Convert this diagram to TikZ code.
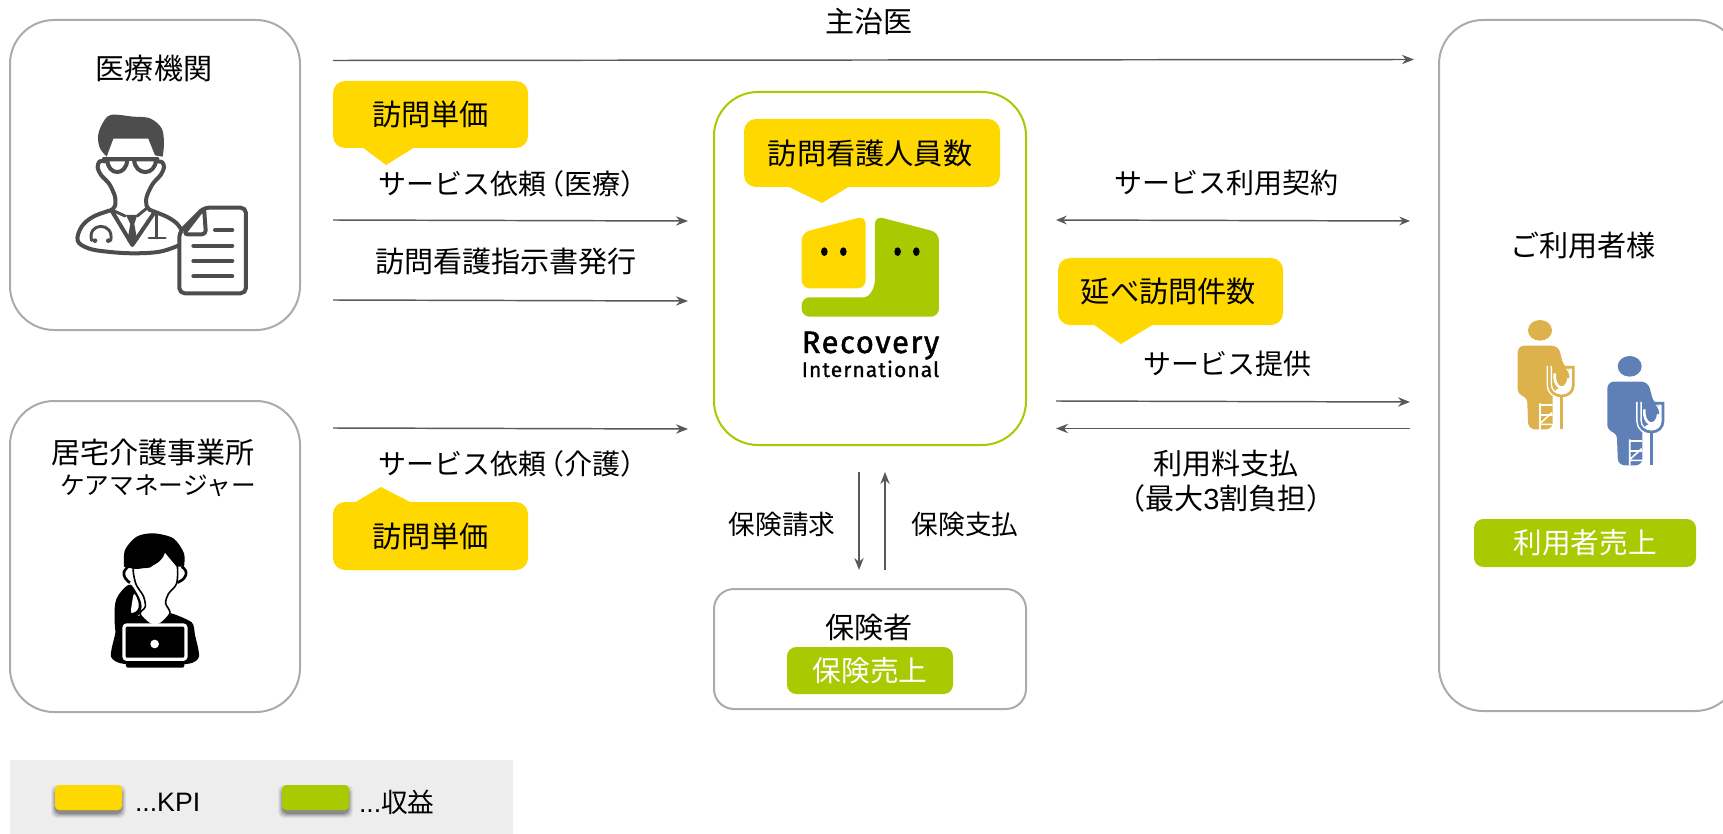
\documentclass[tikz,border=0pt]{standalone}
\usepackage{fontspec}
\usepackage{graphicx}
\setmainfont{Noto Sans CJK JP}
\newfontfamily\latinfont{Liberation Sans}
\newfontfamily\logofont{Fira Sans}
\def\px{.75pt}
\usetikzlibrary{arrows.meta}
\definecolor{kpiyellow}{HTML}{FFD800}
\definecolor{salesgreen}{HTML}{A9C900}
\definecolor{boxgray}{HTML}{ABABAB}
\definecolor{arrowgray}{HTML}{595959}
\definecolor{icongray}{HTML}{4D4D4D}
\definecolor{legendbg}{HTML}{EDEDED}
\definecolor{orangefig}{HTML}{DDB14B}
\definecolor{bluefig}{HTML}{5F80B7}
\tikzset{
  base/.style={inner sep=0pt,outer sep=0pt,align=center},
  panel/.style={base,rectangle,draw=boxgray,line width=1.5pt,fill=white,rounded corners=33pt},
  t26/.style={base,font=\fontsize{21.8}{26}\selectfont,text=black},
  tkana/.style={base,font=\fontsize{21}{26}\selectfont,text=black},
  t29/.style={base,font=\fontsize{21.8}{26}\selectfont,text=black},
  kpibox/.style={base,fill=kpiyellow,rounded corners=9pt,font=\fontsize{21.9}{26}\selectfont},
  salesbox/.style={base,fill=salesgreen,rounded corners=7pt,text=white,font=\fontsize{21.5}{26}\selectfont},
  flow/.style={draw=arrowgray,line width=1.1pt,-{Stealth[length=9pt,width=7pt]}},
  flowboth/.style={draw=arrowgray,line width=1.1pt,{Stealth[length=8pt,width=6.5pt]}-{Stealth[length=8pt,width=6.5pt]}},
  size/.style 2 args={minimum width=#1*\px,minimum height=#2*\px},
}
\newcommand{\patientfig}[3]{%
\begin{scope}[shift={(#1,#2)},scale=.3333]
  \fill[#3] (330,121) ellipse [x radius=36,y radius=31];
  \fill[#3,rounded corners=5pt] (263,317)--(263,167)--(385,167)--(402,232)--(418,240)--(418,285)--(368,300)--(368,418)--(295,418)--(291,317)--cycle;
  \draw[white,line width=4.2pt] (358,228)--(358,285) .. controls (358,305) and (375,318) .. (395,318) .. controls (415,318) and (430,305) .. (430,285)--(430,232);
  \fill[white] (380,325) rectangle (410,418);
  \draw[#3,line width=2pt] (358,226)--(358,285) .. controls (358,305) and (375,318) .. (395,318) .. controls (415,318) and (430,305) .. (430,285)--(430,232)--(405,232);
  \draw[#3,line width=2.6pt] (395,318)--(395,418);
  \draw[white,line width=2pt] (374,250)--(374,265) .. controls (376,282) and (385,293) .. (395,293) .. controls (405,293) and (414,282) .. (416,265);
  \draw[white,line width=1.2pt] (330,340)--(330,418) (330,345)--(368,345) (330,375)--(368,375) (330,403)--(368,403) (333,398)--(366,368);
\end{scope}}
\begin{document}
\begin{tikzpicture}[x=.75pt,y=-.75pt]
\path[use as bounding box,clip] (0,0) rectangle (1723,834);
\fill[white] (0,0) rectangle (1723,834);

% panels
\node[panel,size={290}{310}] (med) at (155,175) {};
\node[panel,size={290}{311}] (care) at (155,556.5) {};
\node[panel,size={312}{353},draw=salesgreen] (rec) at (870,268.5) {};
\node[panel,size={312}{120},rounded corners=15pt] (ins) at (870,649) {};
\node[panel,size={300}{691}] (user) at (1589,365.5) {};

% panel titles
\node[t29] (medt) at (154,68.5) {医療機関};
\node[t29] (caret) at (153,452) {居宅介護事業所};
\node[base,font=\fontsize{18.5}{24}\selectfont] (caret2) at (158,485.5) {ケアマネージャー};
\node[t26] (usert) at (1583,245) {ご利用者様};
\node[t26] (inst) at (869,628) {保険者};

% connectors' free ends
\coordinate (a1) at (333,60.5); \coordinate (a2) at (1414,59.5);
\coordinate (b1) at (333,220); \coordinate (b2) at (688,221);
\coordinate (c1) at (333,300); \coordinate (c2) at (688,301);
\coordinate (d1) at (333,428); \coordinate (d2) at (688,429);
\coordinate (e1) at (1056,220); \coordinate (e2) at (1410,221);
\coordinate (f1) at (1056,401); \coordinate (f2) at (1410,402);
\coordinate (g1) at (1410,428.5); \coordinate (g2) at (1056,428.5);
\coordinate (h1) at (859,472); \coordinate (h2) at (859,570);
\coordinate (i1) at (885,570); \coordinate (i2) at (885,472);
\draw[flow] (a1) -- (a2);
\draw[flow] (b1) -- (b2);
\draw[flow] (c1) -- (c2);
\draw[flow] (d1) -- (d2);
\draw[flowboth] (e1) -- (e2);
\draw[flow] (f1) -- (f2);
\draw[flow] (g1) -- (g2);
\draw[flow] (h1) -- (h2);
\draw[flow] (i1) -- (i2);

% connector labels
\node[t26] (l1) at (869,21.5) {主治医};
\node[tkana,anchor=west] (l2) at (378,184) {サービス依頼\kern-.35em（医療）};
\node[t26] (l3) at (506,261) {訪問看護指示書発行};
\node[tkana,anchor=west] (l4) at (378,464) {サービス依頼\kern-.35em（介護）};
\node[tkana] (l5) at (1226,183) {サービス利用契約};
\node[tkana] (l6) at (1227,364) {サービス提供};
\node[t26] (l7) at (1226,464) {利用料支払};
\node[t26] (l8) at (1226,498) {（最大{\latinfont 3}割負担）};
\node[t26,font=\fontsize{20}{24}\selectfont] (l9) at (782,524) {保険請求};
\node[t26,font=\fontsize{20}{24}\selectfont] (l10) at (965,524) {保険支払};

% KPI callouts
\node[kpibox,size={195}{67}] (k1) at (430.5,114.5) {訪問単価};
\fill[kpiyellow] (362,147) -- (415,147) -- (386,165) -- cycle;
\node[kpibox,size={195}{68}] (k2) at (430.5,536) {訪問単価};
\fill[kpiyellow] (354,503) -- (412,503) -- (381,487) -- cycle;
\node[kpibox,size={256}{68}] (k3) at (872,153) {\kern-3pt 訪問看護人員数};
\fill[kpiyellow] (787,186) -- (850,186) -- (822,203) -- cycle;
\node[kpibox,size={225}{67}] (k4) at (1170.5,291.5) {\kern-3pt 延べ訪問件数};
\fill[kpiyellow] (1093,324) -- (1154,324) -- (1121,344) -- cycle;

% sales tags
\node[salesbox,size={222}{48}] (s1) at (1585,543) {利用者売上};
\node[salesbox,size={166}{47}] (s2) at (870,670.5) {保険売上};

% logo
\begin{scope}[shift={(700,80)},scale=.3333]
  \fill[kpiyellow,rounded corners=6pt] (305,625)--(305,458)--(497,408)--(497,625)--cycle;
  \fill[salesgreen,rounded corners=6pt] (525,500)--(525,408)--(717,458)--(717,710)--(305,710)--(305,652)--(470,652)[sharp corners] .. controls (505,652) and (525,630) .. (525,595) -- cycle;
  \foreach \ex in {373,430,593,649} \fill[black] (\ex,515) ellipse [x radius=10,y radius=13];
\end{scope}
\node[base,anchor=base] (logo1) at (870.5,353) {\resizebox{103.1pt}{!}{\logofont\addfontfeature{LetterSpace=5,FakeBold=1.5}Recovery}};
\node[base,anchor=base] (logo2) at (870.5,377) {\resizebox{103.1pt}{!}{\logofont\addfontfeature{LetterSpace=5,FakeBold=1}International}};

% doctor icon
\begin{scope}[scale=.3333,draw=icongray,line width=3pt,line cap=round,line join=round]
  \fill[icongray] plot[smooth,tension=.55] coordinates {(320,470)(300,445)(294,410)(305,375)(332,345)(400,350)(450,355)(485,385)(492,430)(488,470)} -- (465,466) -- (445,416) -- (340,416) -- cycle;
  \draw plot[smooth,tension=.5] coordinates {(315,484)(298,485)(293,503)(303,525)(328,552)(345,590)(345,618)(335,630)};
  \draw plot[smooth,tension=.5] coordinates {(470,484)(487,487)(492,503)(482,525)(458,552)(440,590)(440,618)(450,630)};
  \draw (322,478) .. controls (322,528) and (380,530) .. (382,478) -- cycle;
  \draw (402,478) .. controls (405,530) and (468,528) .. (468,478) -- cycle;
  \draw (312,476)--(472,476);
  \draw plot[smooth,tension=.6] coordinates {(335,630)(280,650)(245,680)(233,722)(265,745)(320,755)(400,760)(480,755)(540,735)};
  \draw plot[smooth,tension=.5] coordinates {(450,630)(500,650)(530,670)(548,695)};
  \draw (335,632)--(397,735)--(460,642);
  \draw[line width=2.2pt] (340,632)--(375,648) (440,625)--(412,648);
  \fill[icongray] (378,645)--(412,645)--(403,672)--(412,722)--(397,738)--(382,722)--(391,672)--cycle;
  \draw[line width=2.2pt] (275,722) .. controls (260,665) and (345,665) .. (332,722);
  \fill[icongray] (285,722) circle (7) (325,722) circle (7);
  \draw[line width=2.2pt] (470,642)--(470,714) (447,714)--(496,714);
  \draw[fill=white,rounded corners=4pt] (612,623)--(738,623)--(738,880)--(538,880)--(538,697)--cycle;
  \draw[fill=white,rounded corners=3pt] (612,623)--(618,703)--(550,703)--cycle;
  \draw (645,690)--(697,690) (580,737)--(697,737) (580,783)--(697,783) (580,829)--(697,829);
\end{scope}

% care manager icon
\begin{scope}[shift={(0,390)},scale=.3333,line join=round]
  \fill[black] plot[smooth cycle,tension=.4] coordinates {(425,675)(355,702)(345,735)(333,800)(375,822)(560,822)(597,800)(585,735)(575,697)(505,668)};
  \fill[black] plot[smooth cycle,tension=.6] coordinates {(385,585)(350,625)(344,680)(352,730)(400,695)(425,650)(405,600)};
  \draw[black,line width=1.2pt,fill=white] plot[smooth cycle,tension=.5] coordinates {(402,530)(407,580)(430,618)(436,650)(420,672)(450,702)(480,702)(510,670)(497,640)(505,612)(530,580)(530,520)(495,480)(450,530)};
  \fill[white] plot[smooth cycle,tension=.6] coordinates {(403,612)(396,640)(394,668)(412,660)(416,640)};
  \draw[black,line width=2pt] plot[smooth,tension=.8] coordinates {(385,530)(372,545)(376,565)(390,578)};
  \draw[black,line width=2pt] plot[smooth,tension=.8] coordinates {(545,530)(558,545)(552,565)(532,578)};
  \fill[black] plot[smooth,tension=.5] coordinates {(372,530)(375,480)(410,440)(460,430)(520,445)(552,490)(552,530)} -- (530,530) -- (495,488) .. controls (485,520) and (450,537) .. (402,537) -- cycle;
  \draw[white,line width=2.4pt,fill=black,rounded corners=2pt] (372,705) rectangle (558,808);
  \fill[white] (464,762) circle (13);
  \fill[black,rounded corners=1.5pt] (378,816) rectangle (553,833);
\end{scope}

% patients
\patientfig{1430}{290}{orangefig}
\patientfig{1519.7}{326}{bluefig}

% legend
\fill[legendbg] (10,760) rectangle (513,834);
\foreach \sx/\sc/\nm in {55/kpiyellow/sw1,282/salesgreen/sw2}{
  \foreach \gr/\op in {4/.05,3/.07,2/.09,1/.12,0/.16}
    \fill[black,opacity=\op,rounded corners=4pt] (\sx-\gr,785+4-\gr) rectangle (\sx+67+\gr,810+4+\gr);
  \node[base,fill=\sc,rounded corners=3pt,minimum width=50.25pt,minimum height=18.75pt] (\nm) at (\sx+33.5,797.5) {};
}
\node[base,anchor=west,font=\latinfont\fontsize{20}{24}\selectfont] (lg1) at (135,802) {...KPI};
\node[base,anchor=west,font=\fontsize{20}{24}\selectfont] (lg2) at (359,802) {{\latinfont ...}収益};
\end{tikzpicture}
\end{document}
